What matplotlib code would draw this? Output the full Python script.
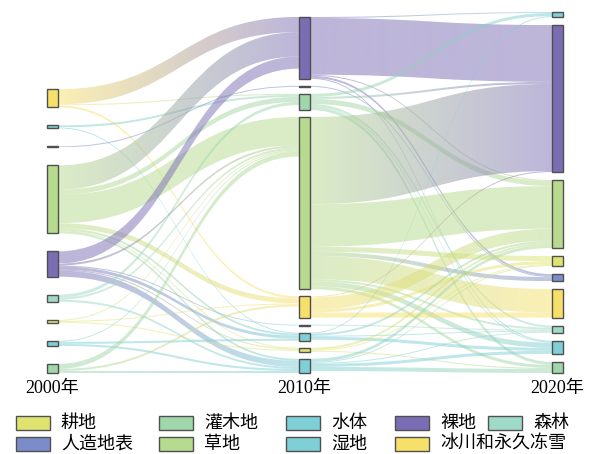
import matplotlib.pyplot as plt
import numpy as np
from matplotlib.path import Path
from matplotlib.patches import PathPatch, Rectangle
from matplotlib.colors import to_rgba

plt.rcParams['font.family'] = ['Noto Sans CJK SC', 'DejaVu Sans']

# land cover classes and colours
classes = ['耕地', '人造地表', '灌木地', '草地', '水体', '湿地', '裸地', '冰川和永久冻雪', '森林']
class_colors = ['#dfe471', '#7b8cc8', '#9fd6aa', '#b6da8e', '#7fcfd6', '#7fcfd6', '#7b6db4', '#f6e06a', '#9fd9c8']

years = ['2000年', '2010年', '2020年']

# node order in each column (top to bottom)
order_2000 = ['冰川和永久冻雪', '湿地', '人造地表', '草地', '裸地', '森林', '耕地', '水体', '灌木地']
order_2010 = ['裸地', '人造地表', '灌木地', '草地', '冰川和永久冻雪', '森林', '湿地', '耕地', '水体']
order_2020 = ['湿地', '裸地', '草地', '耕地', '人造地表', '冰川和永久冻雪', '森林', '水体', '灌木地']

# transitions 2000 -> 2010
src_a = ['冰川和永久冻雪', '冰川和永久冻雪', '冰川和永久冻雪',
         '湿地', '湿地', '人造地表',
         '草地', '草地', '草地', '草地', '草地', '草地', '草地',
         '裸地', '裸地', '裸地', '裸地', '裸地', '裸地',
         '森林', '森林', '森林',
         '耕地', '耕地', '耕地',
         '水体', '水体', '水体',
         '灌木地', '灌木地', '灌木地']
tgt_a = ['裸地', '灌木地', '冰川和永久冻雪',
         '灌木地', '湿地', '人造地表',
         '裸地', '灌木地', '草地', '冰川和永久冻雪', '湿地', '水体', '耕地',
         '裸地', '草地', '湿地', '水体', '森林', '耕地',
         '灌木地', '草地', '水体',
         '草地', '冰川和永久冻雪', '耕地',
         '湿地', '水体', '草地',
         '草地', '水体', '冰川和永久冻雪']
val_a = [15, 1, 2,
         2, 1, 1,
         24, 5, 28, 5, 2, 2, 1,
         12, 2, 3, 6, 1, 1,
         3, 2, 2,
         1, 1, 1,
         2, 2, 1,
         5, 2, 2]

# transitions 2010 -> 2020
src_b = ['裸地', '裸地', '裸地', '裸地', '裸地',
         '人造地表',
         '灌木地', '灌木地', '灌木地', '灌木地', '灌木地', '灌木地',
         '草地', '草地', '草地', '草地', '草地', '草地', '草地', '草地',
         '冰川和永久冻雪', '冰川和永久冻雪', '冰川和永久冻雪', '冰川和永久冻雪',
         '森林',
         '湿地', '湿地', '湿地', '湿地',
         '耕地', '耕地', '耕地',
         '水体', '水体', '水体', '水体', '水体']
tgt_b = ['裸地', '湿地', '人造地表', '水体', '草地',
         '人造地表',
         '湿地', '草地', '灌木地', '森林', '裸地', '水体',
         '裸地', '草地', '冰川和永久冻雪', '耕地', '人造地表', '森林', '水体', '灌木地',
         '草地', '冰川和永久冻雪', '耕地', '裸地',
         '森林',
         '湿地', '水体', '森林', '草地',
         '耕地', '草地', '灌木地',
         '水体', '灌木地', '草地', '森林', '耕地']
val_b = [56, 1, 2, 1, 1,
         1,
         3, 5, 3, 2, 2, 1,
         86, 42, 23, 5, 4, 2, 5, 3,
         12, 5, 3, 1,
         1,
         1, 3, 1, 2,
         1, 2, 1,
         3, 4, 3, 1, 1]

orders = [order_2000, order_2010, order_2020]
stages = [(src_a, tgt_a, val_a), (src_b, tgt_b, val_b)]
color_of = dict(zip(classes, class_colors))

# ---- layout (echarts-like relaxation, fixed node order) ----
col_x = [47, 299, 552]
col_gap = [18, 7, 8]
node_w = 11
top, bottom = 12, 373

edges = []
for s, (srcs, tgts, vals) in enumerate(stages):
    for a, b, v in zip(srcs, tgts, vals):
        edges.append(((s, a), (s + 1, b), v))

nodes = [(c, n) for c, order in enumerate(orders) for n in order]
ins = {k: [] for k in nodes}
outs = {k: [] for k in nodes}
for e in edges:
    outs[e[0]].append(e)
    ins[e[1]].append(e)
value = {k: max(sum(e[2] for e in ins[k]), sum(e[2] for e in outs[k])) for k in nodes}

H = bottom - top
ky = min((H - (len(o) - 1) * col_gap[c]) / sum(value[(c, n)] for n in o) for c, o in enumerate(orders))
dy = {k: value[k] * ky for k in nodes}
y = {}
for c, o in enumerate(orders):
    yy = top
    for n in o:
        y[(c, n)] = yy
        yy += dy[(c, n)] + col_gap[c]


def center(k):
    return y[k] + dy[k] / 2


def resolve():
    for c, o in enumerate(orders):
        g = col_gap[c]
        ks = [(c, n) for n in o]
        y0 = top
        for k in ks:
            d = y0 - y[k]
            if d > 0:
                y[k] += d
            y0 = y[k] + dy[k] + g
        d = y0 - g - bottom
        if d > 0:
            y[ks[-1]] -= d
            y0 = y[ks[-1]]
            for k in reversed(ks[:-1]):
                d = y[k] + dy[k] + g - y0
                if d > 0:
                    y[k] -= d
                y0 = y[k]


resolve()
alpha = 1.0
for it in range(32):
    alpha *= 0.99
    for c in reversed(range(len(orders))):
        for n in orders[c]:
            k = (c, n)
            if outs[k]:
                m = sum(center(e[1]) * e[2] for e in outs[k]) / sum(e[2] for e in outs[k])
                y[k] += (m - center(k)) * alpha
    resolve()
    for c in range(len(orders)):
        for n in orders[c]:
            k = (c, n)
            if ins[k]:
                m = sum(center(e[0]) * e[2] for e in ins[k]) / sum(e[2] for e in ins[k])
                y[k] += (m - center(k)) * alpha
    resolve()

# edge slots, stacked by the other end's position
sy, ty = {}, {}
for k in nodes:
    off = 0
    for e in sorted(outs[k], key=lambda e: y[e[1]]):
        sy[id(e)] = y[k] + off
        off += e[2] * ky
    off = 0
    for e in sorted(ins[k], key=lambda e: y[e[0]]):
        ty[id(e)] = y[k] + off
        off += e[2] * ky

fig = plt.figure(figsize=(6.02, 4.54), dpi=100)
ax = fig.add_axes([0, 0, 1, 1])
ax.axis('off')

for e in edges:
    (c0, a), (c1, b), v = e
    x0 = col_x[c0] + node_w
    x1 = col_x[c1]
    xm = (x0 + x1) / 2
    t = v * ky
    y0 = sy[id(e)]
    y1 = ty[id(e)]
    verts = [(x0, y0), (xm, y0), (xm, y1), (x1, y1),
             (x1, y1 + t), (xm, y1 + t), (xm, y0 + t), (x0, y0 + t), (x0, y0)]
    codes = [Path.MOVETO, Path.CURVE4, Path.CURVE4, Path.CURVE4,
             Path.LINETO, Path.CURVE4, Path.CURVE4, Path.CURVE4, Path.CLOSEPOLY]
    patch = PathPatch(Path(verts, codes), facecolor='none', edgecolor='none')
    ax.add_patch(patch)
    ca = np.array(to_rgba(color_of[a]))
    cb = np.array(to_rgba(color_of[b]))
    f = np.linspace(0, 1, 64)[:, None]
    grad = ca * (1 - f) + cb * f
    grad[:, 3] = 0.5
    im = ax.imshow(grad[None, :, :], extent=(x0, x1, max(y0, y1) + t, min(y0, y1)),
                   aspect='auto', interpolation='bilinear', zorder=1)
    im.set_clip_path(patch)

for k in nodes:
    c, n = k
    ax.add_patch(Rectangle((col_x[c], y[k]), node_w, max(dy[k], 1), facecolor=color_of[n],
                           edgecolor='#505050', linewidth=1.0, zorder=3))

for c, yr in enumerate(years):
    ax.text(col_x[c] + node_w / 2, 389, yr, ha='center', va='center', fontsize=13,
            family=['Liberation Serif', 'Noto Sans CJK SC'])

# legend drawn as a fixed grid
legend_rows = [['耕地', '灌木地', '水体', '裸地', '森林'],
               ['人造地表', '草地', '湿地', '冰川和永久冻雪']]
leg_x = [16, 159, 286, 395, 488]
leg_y = [416, 437]
for r, row in enumerate(legend_rows):
    for i, n in enumerate(row):
        ax.add_patch(Rectangle((leg_x[i], leg_y[r]), 34, 14, facecolor=color_of[n],
                               edgecolor='#505050', linewidth=1.0, zorder=3))
        ax.text(leg_x[i] + 45, leg_y[r] + 7, n, ha='left', va='center', fontsize=13)

ax.set_xlim(0, 602)
ax.set_ylim(454, 0)
fig.savefig('out.png', dpi=100)
